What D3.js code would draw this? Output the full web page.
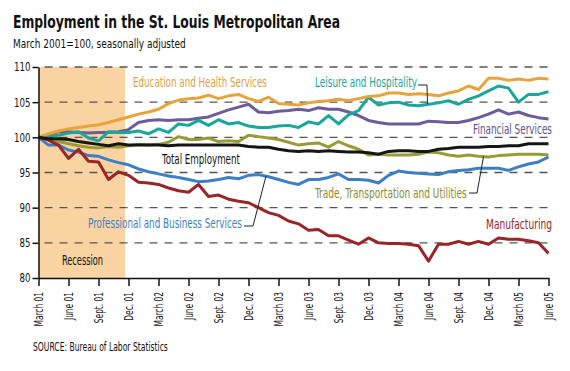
<!DOCTYPE html>
<html>
<head>
<meta charset="utf-8">
<script src="https://cdn.jsdelivr.net/npm/d3@7"></script>
<style>
  body { margin: 0; background: #fff; }
  svg text { font-family: "DejaVu Sans Condensed", "DejaVu Sans", sans-serif; font-stretch: condensed; }
</style>
</head>
<body>
<svg id="chart" width="570" height="371"></svg>
<script>
// monthly, March 2001 .. June 2005 (index 0..51), March 2001 = 100
var tickLabels = ["March 01", "June 01", "Sept. 01", "Dec. 01", "March 02", "June 02", "Sept. 02", "Dec. 02",
    "March 03", "June 03", "Sept. 03", "Dec. 03", "March 04", "June 04", "Sept. 04", "Dec. 04", "March 05", "June 05"];

var education = [100, 100.5, 100.9, 101.2, 101.4, 101.6, 101.8, 102.1, 102.5, 102.9,
    103.3, 103.6, 104.0, 104.8, 105.3, 105.5, 105.6, 106.0, 105.5, 105.9,
    106.1, 105.5, 105.1, 105.7, 104.8, 104.7, 104.6, 104.9, 105.1, 105.2,
    105.4, 105.2, 105.5, 105.8, 105.9, 106.3, 106.3, 106.1, 106.2, 106.1,
    105.9, 106.3, 106.6, 107.3, 106.8, 108.4, 108.4, 108.1, 108.3, 108.1,
    108.4, 108.3];
var leisure = [100, 100.2, 100.3, 100.6, 100.8, 99.9, 99.5, 100.8, 100.7, 100.7,
    100.9, 100.5, 101.2, 100.7, 101.9, 101.7, 102.4, 101.7, 102.5, 101.9,
    102.1, 101.6, 101.4, 101.4, 101.6, 101.7, 101.4, 102.2, 101.9, 103.1,
    101.9, 103.2, 103.8, 105.7, 104.6, 104.9, 105.0, 104.6, 104.5, 104.7,
    104.9, 105.2, 104.7, 105.4, 105.9, 106.6, 107.3, 107.0, 105.0, 106.1,
    106.1, 106.5];
var financial = [100, 100.4, 100.8, 100.8, 100.7, 100.6, 100.7, 100.7, 100.8, 101.1,
    102.1, 102.4, 102.5, 102.4, 102.5, 102.5, 102.7, 102.9, 103.4, 103.9,
    104.3, 104.7, 103.6, 103.5, 103.7, 103.8, 104.0, 103.8, 104.2, 104.0,
    104.0, 103.6, 103.1, 102.4, 102.1, 101.9, 101.9, 101.9, 101.9, 102.3,
    102.2, 102.1, 102.1, 102.4, 102.8, 103.3, 103.9, 103.3, 103.6, 103.1,
    102.8, 102.6];
var trade = [100, 99.7, 99.4, 99.1, 98.8, 98.6, 98.5, 98.7, 98.6, 98.8,
    99.0, 98.9, 99.0, 99.3, 100.1, 99.7, 99.7, 99.9, 99.4, 99.5,
    99.4, 100.3, 100.1, 99.9, 99.7, 99.3, 98.9, 99.1, 99.2, 98.6,
    99.4, 98.8, 98.3, 97.5, 97.6, 97.5, 97.5, 97.5, 97.6, 97.9,
    97.8, 97.5, 97.3, 97.5, 97.3, 97.2, 97.4, 97.5, 97.6, 97.6,
    97.6, 97.5];
var total = [100, 99.8, 99.8, 99.7, 99.4, 99.2, 99.0, 98.8, 99.1, 98.9,
    98.9, 98.9, 98.9, 98.8, 98.9, 98.9, 98.9, 98.9, 98.9, 98.9,
    98.9, 98.7, 98.6, 98.6, 98.3, 98.1, 98.0, 98.1, 98.0, 98.1,
    98.0, 97.9, 97.9, 97.8, 97.6, 98.0, 98.1, 98.1, 98.0, 98.0,
    98.3, 98.4, 98.6, 98.6, 98.6, 98.7, 98.7, 98.8, 98.8, 99.1,
    99.1, 99.1];
var professional = [100, 98.9, 98.9, 98.2, 97.9, 97.4, 97.3, 96.8, 96.4, 96.1,
    95.5, 95.1, 94.8, 94.5, 94.3, 94.0, 93.7, 93.8, 94.0, 94.3,
    94.1, 94.6, 94.7, 94.4, 94.0, 93.6, 93.3, 94.0, 94.0, 94.3,
    94.8, 94.0, 94.0, 93.9, 93.5, 94.6, 95.2, 95.0, 94.9, 94.8,
    94.7, 95.1, 95.3, 95.4, 95.6, 95.6, 95.6, 95.3, 95.8, 96.2,
    96.5, 97.2];
var manufacturing = [100, 99.6, 98.9, 97.0, 98.3, 96.6, 96.5, 94.0, 95.1, 94.6,
    93.6, 93.5, 93.3, 92.8, 92.4, 92.2, 93.3, 91.6, 91.8, 91.2,
    90.9, 90.7, 90.0, 89.3, 88.9, 88.1, 87.7, 86.8, 86.9, 86.0,
    86.0, 85.4, 84.8, 85.7, 85.0, 84.9, 84.9, 84.8, 84.6, 82.4,
    84.8, 84.8, 85.2, 84.8, 85.2, 84.8, 85.7, 85.5, 85.5, 85.3,
    85.0, 83.5];

var recessionEnd = 8.65; // months after March 2001 (Nov 2001)

var svg = d3.select("#chart");

var x = d3.scaleLinear().domain([0, 51]).range([38.5, 548.5]);
var y = d3.scaleLinear().domain([80, 110]).range([278, 67]);

var series = [
    { name: "trade", values: trade, color: "#9a9b36" },
    { name: "financial", values: financial, color: "#6c5c9c" },
    { name: "leisure", values: leisure, color: "#17a79d" },
    { name: "education", values: education, color: "#e8a33a" },
    { name: "professional", values: professional, color: "#3d7fc6" },
    { name: "manufacturing", values: manufacturing, color: "#9b2427" },
    { name: "total", values: total, color: "#151515" }
];

// the original face is a narrow one: scale text horizontally to a given width
function fitText(sel, w) {
    sel.each(function(d) {
        var t = d3.select(this);
        var tw = typeof w === "function" ? w(d) : w;
        var k = tw / this.getComputedTextLength();
        var tx = +t.attr("x"), ty = +t.attr("y");
        t.attr("x", 0).attr("y", 0)
            .attr("transform", "translate(" + tx + "," + ty + ") scale(" + k + ",1)");
    });
}
function squeeze(sel, k) {
    sel.each(function() {
        var w = this.getComputedTextLength();
        d3.select(this).attr("textLength", w * k).attr("lengthAdjust", "spacingAndGlyphs");
    });
}

// titles
svg.append("text").attr("x", 13).attr("y", 28)
    .style("font-size", "18px").style("font-weight", "bold").attr("fill", "#111")
    .text("Employment in the St. Louis Metropolitan Area").call(fitText, 327);
svg.append("text").attr("x", 13).attr("y", 48)
    .style("font-size", "12.5px").attr("fill", "#111")
    .text("March 2001=100, seasonally adjusted").call(fitText, 173);
svg.append("text").attr("x", 33).attr("y", 351)
    .style("font-size", "12.5px").attr("fill", "#111")
    .text("SOURCE: Bureau of Labor Statistics").call(fitText, 135);

// recession shading
svg.append("rect")
    .attr("x", x(0)).attr("y", y(110))
    .attr("width", x(recessionEnd) - x(0))
    .attr("height", y(80) - y(110))
    .attr("fill", "#f9d4a2");

// dashed grid
svg.append("g").selectAll("line")
    .data([85, 90, 95, 100, 105, 110])
    .enter().append("line")
    .attr("x1", x(0) + 6).attr("x2", x(51))
    .attr("y1", function(d) { return y(d); })
    .attr("y2", function(d) { return y(d); })
    .attr("stroke", "#555").attr("stroke-width", 1.3)
    .attr("stroke-dasharray", "8,7");

// lines
var line = d3.line()
    .x(function(d, i) { return x(i); })
    .y(function(d) { return y(d); });

svg.append("g").selectAll("path")
    .data(series)
    .enter().append("path")
    .attr("d", function(d) { return line(d.values); })
    .attr("fill", "none")
    .attr("stroke", function(d) { return d.color; })
    .attr("stroke-width", 3)
    .attr("stroke-linejoin", "round");

// axes
var yAxis = svg.append("g")
    .attr("transform", "translate(" + x(0) + ",0)")
    .call(d3.axisLeft(y).tickValues([80, 85, 90, 95, 100, 105, 110]).tickSize(6).tickSizeOuter(0).tickPadding(2));
yAxis.selectAll("text").style("font-size", "12px").attr("fill", "#111")
    .style("font-family", "'DejaVu Sans Condensed', 'DejaVu Sans', sans-serif")
    .call(squeeze, 0.8);

var xAxis = svg.append("g")
    .attr("transform", "translate(0," + y(80) + ")")
    .call(d3.axisBottom(x).tickValues(d3.range(0, 52, 3))
        .tickFormat(function(d, i) { return tickLabels[i]; })
        .tickSize(8).tickSizeOuter(0));
xAxis.selectAll("text")
    .attr("transform", "rotate(-90)")
    .attr("x", -14).attr("y", 0).attr("dy", "0.35em")
    .style("text-anchor", "end")
    .style("font-size", "11.5px").attr("fill", "#111")
    .style("font-family", "'DejaVu Sans Condensed', 'DejaVu Sans', sans-serif")
    .call(squeeze, 0.72);

svg.selectAll(".domain, .tick line").attr("stroke", "#111").attr("stroke-width", 1.5);

// series labels
var labels = [
    { text: "Education and Health Services", x: 133, y: 87, w: 134, color: "#e0a040", anchor: "start" },
    { text: "Leisure and Hospitality", x: 315, y: 87, w: 102, color: "#17a79d", anchor: "start" },
    { text: "Financial Services", x: 552, y: 134, w: 79, color: "#5e5090", anchor: "end" },
    { text: "Total Employment", x: 162, y: 164, w: 78, color: "#111", anchor: "start" },
    { text: "Trade, Transportation and Utilities", x: 315, y: 198, w: 152, color: "#8b8d2c", anchor: "start" },
    { text: "Professional and Business Services", x: 88, y: 228, w: 154, color: "#3d7fc6", anchor: "start" },
    { text: "Manufacturing", x: 552, y: 229, w: 66, color: "#9b2427", anchor: "end" },
    { text: "Recession", x: 62, y: 265, w: 41, color: "#111", anchor: "start" }
];
svg.append("g").selectAll("text")
    .data(labels)
    .enter().append("text")
    .attr("x", function(d) { return d.x; })
    .attr("y", function(d) { return d.y; })
    .attr("fill", function(d) { return d.color; })
    .style("text-anchor", function(d) { return d.anchor; })
    .style("font-size", "13.5px")
    .text(function(d) { return d.text; })
    .call(fitText, function(d) { return d.w; });

// leader lines, pointing at the series
var leaders = [
    [[418, 85], [427, 85], [x(38.9), y(leisure[39])]],
    [[469, 193], [477, 193], [x(44.5), y((trade[44] + trade[45]) / 2)]],
    [[244, 226], [253, 226], [x(22.75), y(professional[23] + 0.1)]]
];
svg.append("g").selectAll("path")
    .data(leaders)
    .enter().append("path")
    .attr("d", d3.line())
    .attr("fill", "none")
    .attr("stroke", "#222")
    .attr("stroke-width", 1);
</script>
</body>
</html>
